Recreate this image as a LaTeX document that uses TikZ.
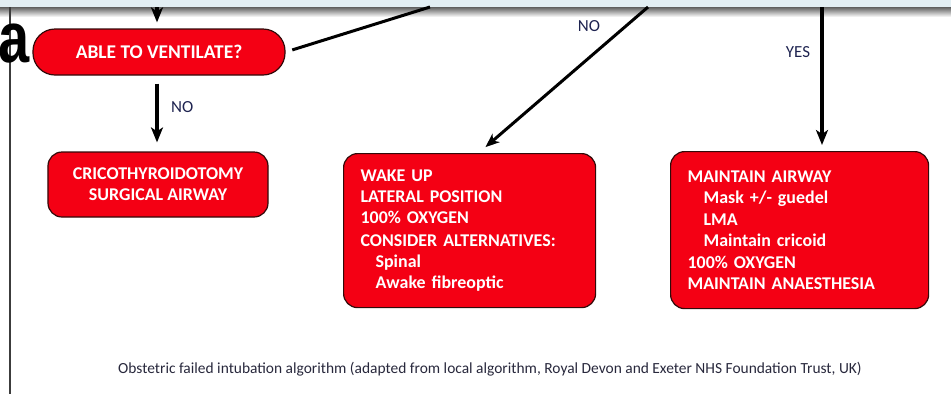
\documentclass[tikz,border=0pt]{standalone}
\usepackage{fontspec}
\setmainfont{Carlito}
\newfontfamily\arialfont{Liberation Sans}
\usetikzlibrary{arrows.meta,calc}
\definecolor{boxred}{RGB}{244,0,20}
\definecolor{boxedge}{RGB}{50,10,10}
\definecolor{bandblue}{RGB}{226,238,243}
\definecolor{labelnavy}{RGB}{30,35,80}
\definecolor{capgray}{RGB}{40,40,60}
\tikzset{
  redbox/.style={draw=boxedge, line width=1.2bp, fill=boxred, text=white,
    font=\bfseries\fontsize{18}{21}\selectfont, rounded corners=14bp},
  leftbox/.style={redbox, align=left, inner xsep=17bp, inner ysep=0bp, anchor=north west},
  arr/.style={line width=4.5bp, -{Stealth[length=15bp,width=12bp,inset=4bp]}},
  thinarr/.style={line width=3bp, -{Stealth[length=14bp,width=11bp,inset=4bp]}},
  plainline/.style={line width=3bp},
  lbl/.style={text=labelnavy, font=\fontsize{17}{18}\selectfont, inner sep=0bp}
}
\begin{document}
\begin{tikzpicture}[x=1bp,y=-1bp]
\useasboundingbox (0,0) rectangle (951,394);
\clip (0,0) rectangle (951,394);
% top band and shadow
\fill[bandblue] (0,0) rectangle (951,7);
\shade[top color={rgb,255:red,95;green,95;blue,95}, bottom color=white] (0,7) rectangle (951,17);
% left rule
\draw[line width=2bp, draw={rgb,255:red,60;green,60;blue,60}] (9.5,7) -- (9.5,394);
% big letter a
\node[anchor=base east, inner sep=0bp, font=\arialfont\bfseries\fontsize{72}{72}\selectfont] (biga) at (30,62) {\scalebox{0.78}[1]{a}};
% boxes
\node[redbox, rounded corners=22bp, minimum width=252bp, minimum height=46bp, inner sep=0bp, font=\bfseries\fontsize{19.5}{21}\selectfont] (able) at (159,52) {ABLE TO VENTILATE?};
\node[redbox, align=center, minimum width=220bp, minimum height=65bp, inner sep=0bp] (crico) at (158,184.5) {CRICOTHYROIDOTOMY\\SURGICAL AIRWAY};
\node[leftbox, text width=218bp, minimum height=154bp] (wake) at (343,153) {WAKE UP\\LATERAL POSITION\\100\% OXYGEN\\[3bp]CONSIDER ALTERNATIVES:\\\hspace*{15bp}Spinal\\\hspace*{15bp}Awake fibreoptic};
\node[leftbox, text width=224bp, minimum height=157bp, font=\bfseries\fontsize{18}{21.6}\selectfont] (maint) at (670,151) {MAINTAIN AIRWAY\\\hspace*{16bp}Mask +/- guedel\\\hspace*{16bp}LMA\\\hspace*{16bp}Maintain cricoid\\100\% OXYGEN\\MAINTAIN ANAESTHESIA};
% free ends at top
\coordinate (topA) at (157,7);
\coordinate (topB) at (430,7);
\coordinate (topNO) at (648,7);
\coordinate (topYES) at (822,7);
% connectors
\draw[arr, line width=3.5bp, shorten >=6bp] (topA) -- (topA |- able.north);
\draw[plainline, shorten <=7bp] (able.east) -- (topB);
\draw[arr, shorten <=8bp, shorten >=9bp] (able.south -| topA) -- (crico.north -| topA);
\draw[thinarr, shorten >=9bp] (topNO) -- ($(wake.north)+(9,0)$);
\draw[arr, shorten >=6bp] (topYES) -- (topYES |- maint.north);
% labels
\node[lbl, anchor=west] (lno1) at (171,107) {NO};
\node[lbl] (lno2) at (589,26) {NO};
\node[lbl] (lyes) at (798,52) {YES};
% caption
\node[text=capgray, font=\fontsize{15.5}{17}\selectfont, inner sep=0bp] (cap) at (490,369) {Obstetric failed intubation algorithm (adapted from local algorithm, Royal Devon and Exeter NHS Foundation Trust, UK)};
\end{tikzpicture}
\end{document}
